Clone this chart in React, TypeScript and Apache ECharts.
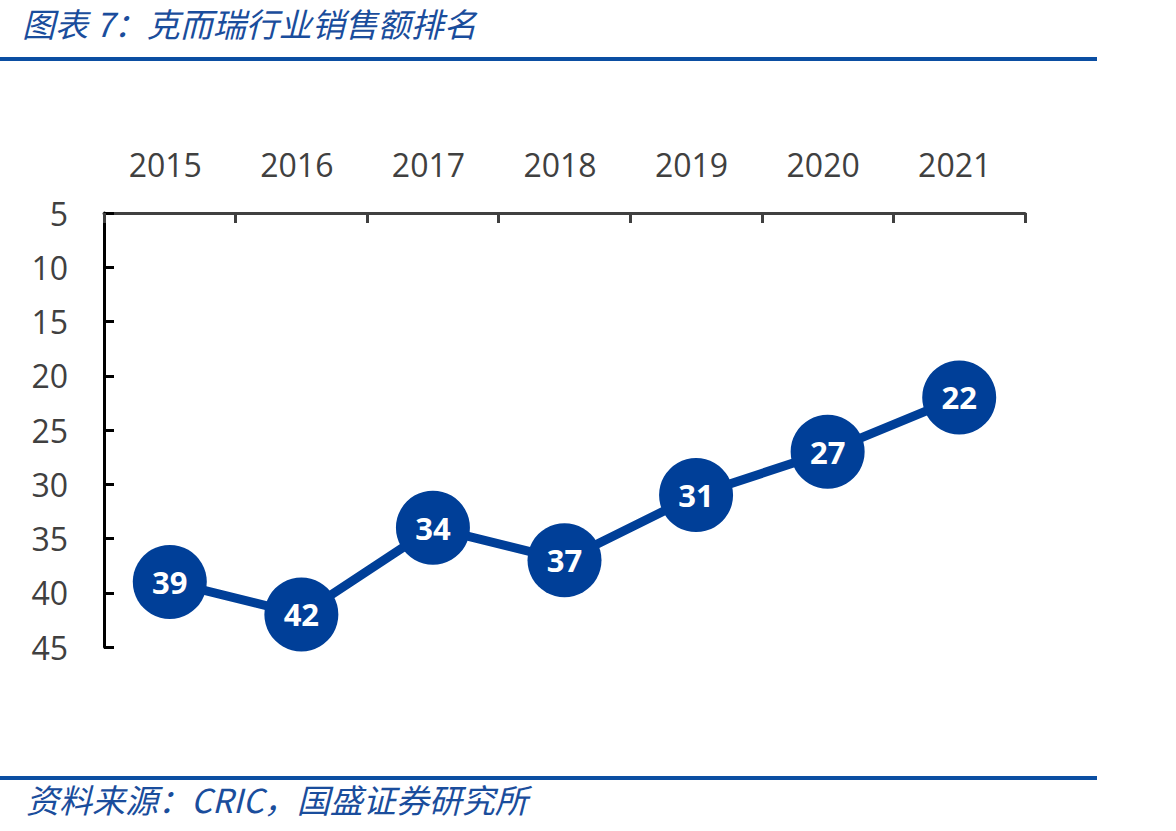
import React, { useEffect, useRef } from "react";
import * as echarts from "echarts";

const years = ["2015", "2016", "2017", "2018", "2019", "2020", "2021"];
const ranks = [39, 42, 34, 37, 31, 27, 22];
const yMin = 5;
const yMax = 45;
const yStep = 5;

const titleText = "图表 7：克而瑞行业销售额排名";
const sourceText = "资料来源：CRIC，国盛证券研究所";

export default function App() {
  const ref = useRef<HTMLDivElement>(null);
  useEffect(() => {
    document.body.style.margin = "0";
    const chart = echarts.init(ref.current!, null, { renderer: "svg" });
    const blue = "#1a4d9c";
    const lineBlue = "#003f98";
    const font = "'Open Sans', Lato, sans-serif";
    chart.setOption({
      animation: false,
      backgroundColor: "#ffffff",
      grid: { left: 104, right: 151, top: 213, bottom: 184, containLabel: false },
      xAxis: {
        type: "category",
        data: years,
        position: "top",
        boundaryGap: true,
        axisLine: { show: true, lineStyle: { color: "#404040", width: 3 } },
        axisTick: { show: true, inside: true, length: 10, lineStyle: { color: "#404040", width: 3 } },
        axisLabel: { color: "#404040", fontSize: 32, fontFamily: font, margin: 33, padding: [0, 9, 0, 0] },
        splitLine: { show: false },
      },
      yAxis: {
        type: "value",
        inverse: true,
        min: yMin,
        max: yMax,
        interval: yStep,
        axisLine: { show: true, lineStyle: { color: "#000000", width: 3 } },
        axisTick: { show: true, inside: true, length: 10, lineStyle: { color: "#000000", width: 3 } },
        axisLabel: { color: "#404040", fontSize: 32, fontFamily: font, margin: 36 },
        splitLine: { show: false },
      },
      series: [
        {
          type: "line",
          data: ranks,
          symbol: "circle",
          symbolSize: 74,
          lineStyle: { color: lineBlue, width: 9 },
          itemStyle: { color: lineBlue },
          label: {
            show: true,
            position: "inside",
            color: "#ffffff",
            fontSize: 31,
            fontWeight: "bold",
            fontFamily: font,
          },
        },
      ],
      graphic: [
        {
          type: "text",
          left: 22,
          top: 6,
          style: {
            text: titleText,
            fill: blue,
            fontSize: 33,
            fontStyle: "italic",
            fontFamily: "'Noto Sans CJK SC', sans-serif",
          },
        },
        {
          type: "rect",
          shape: { x: 0, y: 57, width: 1097, height: 4 },
          style: { fill: "#0b4ea2" },
        },
        {
          type: "rect",
          shape: { x: 0, y: 776, width: 1097, height: 4 },
          style: { fill: "#0b4ea2" },
        },
        {
          type: "text",
          left: 26,
          top: 782,
          style: {
            text: sourceText,
            fill: blue,
            fontSize: 33,
            fontStyle: "italic",
            fontFamily: "'Noto Sans CJK SC', sans-serif",
          },
        },
      ],
    });
    return () => chart.dispose();
  }, []);
  return <div ref={ref} style={{ width: 1176, height: 831 }} />;
}
